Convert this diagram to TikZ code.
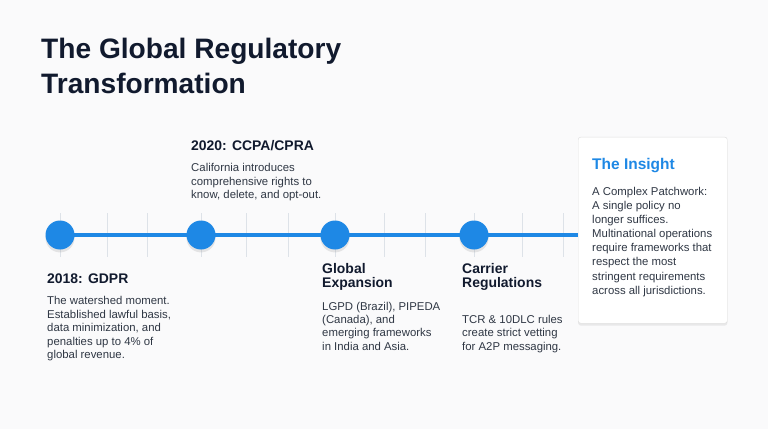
\documentclass[tikz,border=0pt]{standalone}
\usepackage{fontspec}
\setmainfont{Liberation Sans}
\usetikzlibrary{positioning, calc, shadows, backgrounds}

\definecolor{pagebg}{HTML}{FAFAFB}
\definecolor{navy}{HTML}{111A2E}
\definecolor{bodygray}{HTML}{2F3744}
\definecolor{tlblue}{HTML}{1E88E5}
\definecolor{tickgray}{HTML}{DDE2E8}

% multi-line nodes sit on the baseline of their last line
\tikzset{
  milestone/.style={circle, fill=tlblue, minimum size=0.87cm, inner sep=0pt,
    drop shadow={opacity=0.18, shadow xshift=0pt, shadow yshift=-2.5pt}},
  titletext/.style={anchor=base west, align=left, inner sep=0pt, text=navy,
    font=\fontsize{24}{30}\selectfont\bfseries},
  heading/.style={anchor=base west, align=left, inner sep=0pt, text=navy,
    font=\fontsize{11.9}{12.3}\selectfont\bfseries},
  bodytext/.style={anchor=base west, align=left, inner sep=0pt, text=bodygray,
    font=\fontsize{9.7}{11.4}\selectfont},
  insightbox/.style={anchor=north west, draw=gray!25, fill=white, rounded corners=2pt,
    minimum width=4.47cm, minimum height=5.58cm,
    drop shadow={opacity=0.14, shadow xshift=0pt, shadow yshift=-2pt}},
}

\begin{document}
\begin{tikzpicture}[x=0.03cm, y=-0.03cm]
    \useasboundingbox (0,0) rectangle (768,429);

    % Background and ticks
    \begin{scope}[on background layer]
        \fill[pagebg] (0,0) rectangle (768,429);
        \foreach \x in {60,107,147,201,246,288,335,384,425,474,522,563} {
            \draw[tickgray, line width=0.8pt] (\x,213) -- (\x,257);
        }
    \end{scope}

    % Title
    \node[titletext] (title) at (41,94) {The Global Regulatory\\Transformation};

    % Milestones
    \node[milestone] (m1) at (60,235) {};
    \node[milestone] (m2) at (201,235) {};
    \node[milestone] (m3) at (335,235) {};
    \node[milestone] (m4) at (474,235) {};

    % Insight box
    \node[insightbox] (insight) at (578,137) {};

    % Timeline
    \begin{scope}[on background layer]
        \draw[tlblue, line width=3.2pt] (m1.center) -- (insight.west |- m1.center);
    \end{scope}

    % 2020 above the line
    \node[heading] (h2020) at (191,150.7) {2020: CCPA/CPRA};
    \node[bodytext] (b2020) at (191,198.4) {California introduces\\comprehensive rights to\\know, delete, and opt-out.};

    % 2018
    \node[heading] (h2018) at (47,283.3) {2018: GDPR};
    \node[bodytext] (b2018) at (47,358.4) {The watershed moment.\\Established lawful basis,\\data minimization, and\\penalties up to 4\% of\\global revenue.};

    % Global expansion
    \node[heading] (hglobal) at (322,287.7) {Global\\Expansion};
    \node[bodytext] (bglobal) at (322,350.1) {LGPD (Brazil), PIPEDA\\(Canada), and\\emerging frameworks\\in India and Asia.};

    % Carrier regulations
    \node[heading] (hcarrier) at (462,287.7) {Carrier\\Regulations};
    \node[bodytext] (bcarrier) at (462,350.1) {TCR \& 10DLC rules\\create strict vetting\\for A2P messaging.};

    % Insight text
    \node[heading, text=tlblue, font=\fontsize{13.2}{15}\selectfont\bfseries] (ititle) at (592,169.3) {The Insight};
    \node[bodytext, font=\fontsize{9.7}{12.1}\selectfont] (ibody) at (592,294.3) {A Complex Patchwork:\\A single policy no\\longer suffices.\\Multinational operations\\require frameworks that\\respect the most\\stringent requirements\\across all jurisdictions.};

\end{tikzpicture}
\end{document}
